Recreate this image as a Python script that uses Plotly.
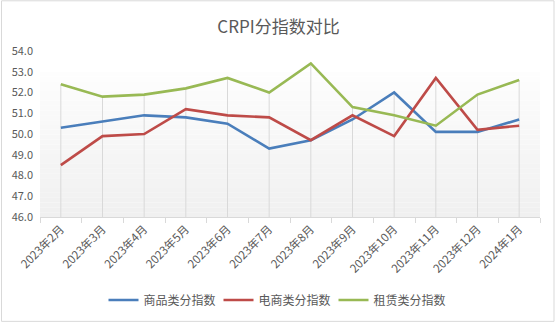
import plotly.graph_objects as go

categories = ["2023年2月", "2023年3月", "2023年4月", "2023年5月", "2023年6月", "2023年7月",
              "2023年8月", "2023年9月", "2023年10月", "2023年11月", "2023年12月", "2024年1月"]
goods = [50.3, 50.6, 50.9, 50.8, 50.5, 49.3, 49.7, 50.7, 52.0, 50.1, 50.1, 50.7]
ecommerce = [48.5, 49.9, 50.0, 51.2, 50.9, 50.8, 49.7, 50.9, 49.9, 52.7, 50.2, 50.4]
rental = [52.4, 51.8, 51.9, 52.2, 52.7, 52.0, 53.4, 51.3, 50.9, 50.4, 51.9, 52.6]
series_names = ["商品类分指数", "电商类分指数", "租赁类分指数"]
y_ticks = [46.0, 47.0, 48.0, 49.0, 50.0, 51.0, 52.0, 53.0, 54.0]

colors = ["#4A7EBB", "#BE4B48", "#98B954"]
font_family = "Noto Sans CJK SC, Noto Sans, sans-serif"
text_color = "#595959"

fig = go.Figure()

# drop lines from highest point down to axis
dx, dy = [], []
for i, c in enumerate(categories):
    top = max(goods[i], ecommerce[i], rental[i])
    dx += [c, c, None]
    dy += [y_ticks[0], top, None]
fig.add_trace(go.Scatter(x=dx, y=dy, mode="lines", line=dict(color="#D9D9D9", width=1),
                         showlegend=False, hoverinfo="skip"))

for name, vals, col in zip(series_names, [goods, ecommerce, rental], colors):
    fig.add_trace(go.Scatter(x=categories, y=vals, mode="lines", name=name,
                             line=dict(color=col, width=2.6)))

# gradient plot-area background
shapes = []
n = 30
y_lo, y_hi = 46.0, 53.0
for k in range(n):
    t = k / (n - 1)
    v = int(round(253 - (253 - 240) * (1 - t)))
    b0 = y_lo + (y_hi - y_lo) * k / n
    b1 = y_lo + (y_hi - y_lo) * (k + 1) / n
    shapes.append(dict(type="rect", xref="paper", yref="y", x0=0, x1=1, y0=b0, y1=b1,
                       fillcolor=f"rgb({v},{v},{v})", line=dict(width=0), layer="below"))
# chart border
shapes.append(dict(type="rect", xref="paper", yref="paper",
                   x0=(1.5 - 40) / 500, x1=(554 - 40) / 500,
                   y0=(218 - 323) / 167, y1=(218 - 0.5) / 167,
                   line=dict(color="#D9D9D9", width=1), fillcolor="rgba(0,0,0,0)", layer="below"))

fig.update_layout(
    width=557, height=325,
    margin=dict(l=40, r=17, t=51, b=107),
    paper_bgcolor="white", plot_bgcolor="rgba(0,0,0,0)",
    font=dict(family=font_family, color=text_color, size=11),
    title=dict(text="CRPI分指数对比", x=0.5, xanchor="center", y=1 - 27 / 325, yanchor="middle",
               font=dict(size=17, color=text_color, family=font_family)),
    shapes=shapes,
    showlegend=True,
    legend=dict(orientation="h", x=(276 - 40) / 500, xanchor="center", y=(218 - 300) / 167,
                yanchor="middle", font=dict(size=12, color=text_color), itemwidth=30,
                entrywidth=70, entrywidthmode="pixels",
                bgcolor="rgba(0,0,0,0)"),
    xaxis=dict(type="category", range=[-0.5, 11.5], showgrid=False, showline=True,
               linecolor="#D9D9D9", linewidth=1, ticks="outside", tickson="boundaries",
               ticklen=5, tickcolor="#D9D9D9", tickangle=-45, tickfont=dict(size=11.5),
               zeroline=False),
    yaxis=dict(range=[46, 54], tickvals=y_ticks, ticktext=[f"{v:.1f}" for v in y_ticks],
               showgrid=False, showline=False, zeroline=False, ticks="",
               ticklabelstandoff=6, tickfont=dict(size=11)),
)

fig.write_html("out.html")
